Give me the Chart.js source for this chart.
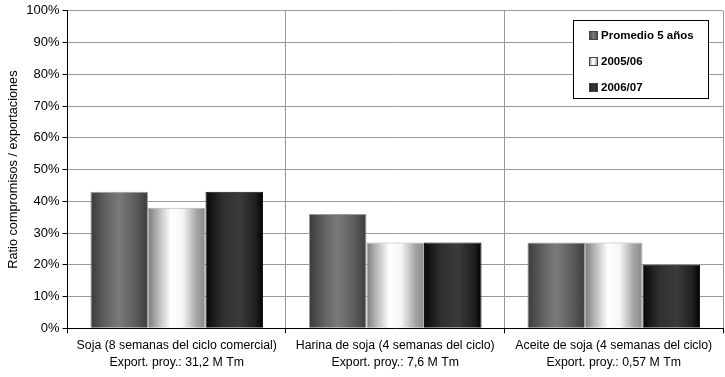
<!DOCTYPE html>
<html>
<head>
<meta charset="utf-8">
<script src="https://cdn.jsdelivr.net/npm/chart.js@4.4.1/dist/chart.umd.min.js"></script>
<style>
  html, body { margin: 0; padding: 0; background: #fff; }
  #wrap { width: 725px; height: 377px; }
</style>
</head>
<body>
<div id="wrap"><canvas id="c" width="725" height="377"></canvas></div>
<script>
// --- data ---
const categories = [
    ['Soja (8 semanas del ciclo comercial)', 'Export. proy.: 31,2 M Tm'],
    ['Harina de soja (4 semanas del ciclo)', 'Export. proy.: 7,6 M Tm'],
    ['Aceite de soja (4 semanas del ciclo)', 'Export. proy.: 0,57 M Tm']
];
const seriesLabels = ['Promedio 5 años', '2005/06', '2006/07'];
const promedio = [43, 36, 27];
const s2005 = [38, 27, 27];
const s2006 = [43, 27, 20];
const yTicks = [0, 10, 20, 30, 40, 50, 60, 70, 80, 90, 100];

const FONT = "'Liberation Sans Narrow', 'Arial Narrow', 'Liberation Sans', sans-serif";
const CAT_PCT = 0.79;

// horizontal "cylinder" shading per series
const shades = [
    [[0, '#3a3a3a'], [0.3, '#666666'], [0.5, '#7a7a7a'], [0.8, '#5a5a5a'], [1, '#3c3c3c']],
    [[0, '#7a7a7a'], [0.15, '#b0b0b0'], [0.4, '#ffffff'], [0.6, '#f6f6f6'], [0.85, '#a4a4a4'], [1, '#8a8a8a']],
    [[0, '#080808'], [0.3, '#303030'], [0.6, '#3a3a3a'], [0.88, '#1e1e1e'], [1, '#000000']]
];
const flat = ['#5a5a5a', '#d0d0d0', '#2a2a2a'];
const borders = ['#9a9a9a', '#b0b0b0', '#111111'];

function makeGradient(ctx, x0, x1, stops) {
    const g = ctx.createLinearGradient(x0, 0, x1, 0);
    stops.forEach(s => g.addColorStop(s[0], s[1]));
    return g;
}

function barFill(context) {
    const chart = context.chart;
    const xs = chart.scales.x;
    const di = context.datasetIndex;
    if (!xs || context.dataIndex === undefined) return flat[di] || '#777';
    const n = chart.data.datasets.length;
    const catW = (xs.right - xs.left) / categories.length;
    const groupW = catW * CAT_PCT;
    const barW = groupW / n;
    const center = xs.getPixelForValue(context.dataIndex);
    const left = center - groupW / 2 + di * barW;
    if (!isFinite(left) || !isFinite(barW) || barW <= 0) return flat[di];
    return makeGradient(chart.ctx, left, left + barW, shades[di]);
}

// legend box drawn inside the plot, top right
const boxLegend = {
    id: 'boxLegend',
    afterDraw(chart) {
        const ctx = chart.ctx;
        const x = 573, y = 20, w = 135, h = 78;
        ctx.save();
        ctx.fillStyle = '#fff';
        ctx.fillRect(x, y, w, h);
        ctx.strokeStyle = '#000';
        ctx.lineWidth = 1;
        ctx.strokeRect(x + 0.5, y + 0.5, w, h);
        ctx.font = 'bold 11.5px ' + FONT;
        ctx.textBaseline = 'middle';
        seriesLabels.forEach((lab, i) => {
            const cy = y + 15 + i * 26;
            ctx.fillStyle = makeGradient(ctx, x + 16, x + 25, shades[i]);
            ctx.fillRect(x + 16, cy - 4, 9, 9);
            ctx.strokeStyle = '#444';
            ctx.strokeRect(x + 16.5, cy - 3.5, 8, 8);
            ctx.fillStyle = '#000';
            ctx.fillText(lab, x + 28, cy + 1);
        });
        ctx.restore();
    }
};

function makeDataset(i, values) {
    return {
        label: seriesLabels[i],
        data: values,
        backgroundColor: barFill,
        borderColor: borders[i],
        borderWidth: 1,
        categoryPercentage: CAT_PCT,
        barPercentage: 1.0
    };
}

new Chart(document.getElementById('c').getContext('2d'), {
    type: 'bar',
    data: {
        labels: categories,
        datasets: [makeDataset(0, promedio), makeDataset(1, s2005), makeDataset(2, s2006)]
    },
    options: {
        responsive: false,
        animation: false,
        layout: { padding: { top: 4, right: 2, left: 6, bottom: 2 } },
        plugins: {
            legend: { display: false },
            tooltip: { enabled: false }
        },
        scales: {
            x: {
                grid: { color: '#999', tickColor: '#000', tickLength: 5, offset: true },
                border: { color: '#000', width: 1 },
                ticks: {
                    color: '#000',
                    font: { family: FONT, size: 12.3, lineHeight: 1.45 },
                    maxRotation: 0,
                    autoSkip: false,
                    padding: 3
                }
            },
            y: {
                min: 0,
                max: 100,
                afterBuildTicks: axis => { axis.ticks = yTicks.map(v => ({ value: v })); },
                grid: { color: '#999', tickColor: '#000', tickLength: 5 },
                border: { color: '#000', width: 1 },
                ticks: {
                    color: '#000',
                    font: { family: FONT, size: 13 },
                    padding: 3,
                    callback: v => v + '%'
                },
                title: {
                    display: true,
                    text: 'Ratio compromisos / exportaciones',
                    color: '#000',
                    font: { family: FONT, size: 12.7 },
                    padding: { top: 0, bottom: 2 }
                }
            }
        }
    },
    plugins: [boxLegend]
});
</script>
</body>
</html>
